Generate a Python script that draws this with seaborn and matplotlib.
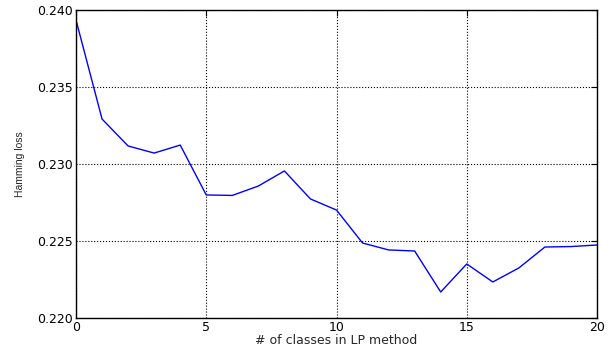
import numpy as np
import pandas as pd
import matplotlib
matplotlib.use('Agg')
import matplotlib.pyplot as plt
import seaborn as sns

# values
n_classes = list(range(0, 21))
hamming_loss = [0.23935, 0.23292, 0.23117, 0.23071, 0.23123, 0.22799, 0.22796,
                0.22857, 0.22955, 0.22773, 0.22701, 0.22487, 0.22442, 0.22435,
                0.22169, 0.22351, 0.22234, 0.22325, 0.22461, 0.22464, 0.22474]
x_ticks = [0, 5, 10, 15, 20]
y_ticks = [0.220, 0.225, 0.230, 0.235, 0.240]

sns.set_style('white')
plt.rcParams['font.family'] = ['DejaVu Sans']

df = pd.DataFrame({'k': n_classes, 'loss': hamming_loss})

fig = plt.figure(figsize=(6.1, 3.46), dpi=100)
ax = fig.add_axes([0.1246, 0.0809, 0.8541, 0.8902])
sns.lineplot(data=df, x='k', y='loss', ax=ax, color='#0000ff', linewidth=1.0)

ax.set_xlim(0, 20)
ax.set_ylim(0.220, 0.240)
ax.set_xticks(x_ticks)
ax.set_yticks(y_ticks)
ax.set_yticklabels([f'{v:.3f}' for v in y_ticks])
ax.tick_params(direction='in', length=4, width=0.8, top=True, right=True,
               labelsize=9, colors='black', pad=2)
ax.grid(True, color='black', linestyle=':', linewidth=0.8)
for s in ax.spines.values():
    s.set_color('black')
    s.set_linewidth(1.0)

ax.set_xlabel('# of classes in LP method', fontsize=9, labelpad=0)
ax.set_ylabel('Hamming loss', fontsize=7.5, family='Liberation Sans', labelpad=9)

fig.savefig('out.png', dpi=100)
